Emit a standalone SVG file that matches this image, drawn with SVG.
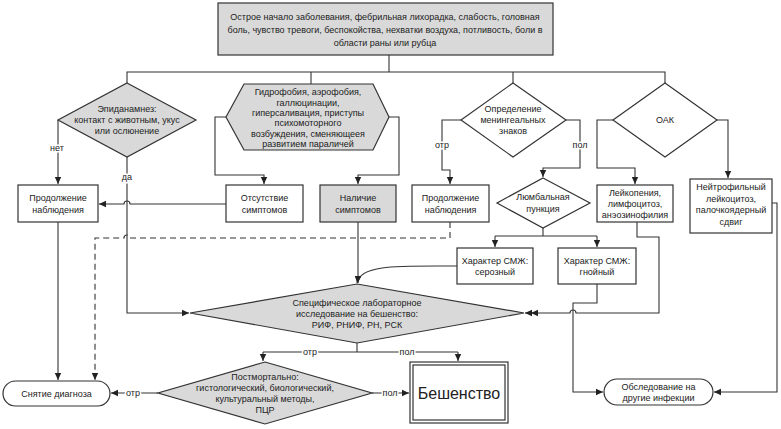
<svg xmlns="http://www.w3.org/2000/svg" width="781" height="429" viewBox="0 0 781 429">
<style>
text{font-family:"Liberation Sans",Arial,sans-serif;font-size:9px;fill:#222;text-anchor:middle;dominant-baseline:central}
.n{stroke:#333;stroke-width:1.2;fill:#fff}
.g{fill:#d9d9d9}
.c path{fill:none;stroke:#333;stroke-width:1.1}
.c .d{stroke-dasharray:6,4}
.lb{paint-order:stroke;stroke:#fff;stroke-width:3px}
.big{font-size:16px}
</style>
<defs>
<marker id="a" markerWidth="8" markerHeight="8" refX="7" refY="4" orient="auto" markerUnits="userSpaceOnUse"><path d="M0,0.8 L7,4 L0,7.2 z" fill="#222"/></marker>
</defs>
<rect width="781" height="429" fill="#fff"/>
<g class="c" id="connectors">
<path d="M389,55 V72"/>
<path d="M127,83 V72 H665 V83"/>
<path d="M311,72 V84"/>
<path d="M513,72 V83"/>
<path d="M58,120 V184" marker-end="url(#a)"/>
<path d="M127,157 V313 H189" marker-end="url(#a)"/>
<path d="M226,117 H215 V175 H264 V184" marker-end="url(#a)"/>
<path d="M389,117 H399 V175 H358 V184" marker-end="url(#a)"/>
<path d="M226,204 H130 a3,3 0 0 0 -6,0 H99" marker-end="url(#a)"/>
<path d="M58,222 V380" marker-end="url(#a)"/>
<path d="M358,222 V283" marker-end="url(#a)"/>
<path class="d" d="M450,222 V238 H130 a3,3 0 0 0 -6,0 H95 V380" marker-end="url(#a)"/>
<path d="M461,120 H442 V170 H450 V184" marker-end="url(#a)"/>
<path d="M566,120 H580 V168 H543 V177" marker-end="url(#a)"/>
<path d="M543,228 V236"/>
<path d="M495,236 H597"/>
<path d="M495,236 V247" marker-end="url(#a)"/>
<path d="M597,236 V247" marker-end="url(#a)"/>
<path d="M457,266 C400,266 360,264 357,283" marker-end="url(#a)"/>
<path d="M637,222 V237 H659 V313 H576 a3,3 0 0 0 -6,0 H531" marker-end="url(#a)"/>
<path d="M531,313 H525" marker-end="url(#a)"/>
<path d="M597,284 V303 H573 V392 H603" marker-end="url(#a)"/>
<path d="M613,120 H597 V168 H635 V184" marker-end="url(#a)"/>
<path d="M717,120 H728 V178" marker-end="url(#a)"/>
<path d="M772,203 H777 V392 H714" marker-end="url(#a)"/>
<path d="M357,343 V352"/>
<path d="M263,352 H458"/>
<path d="M263,352 V361" marker-end="url(#a)"/>
<path d="M458,352 V361" marker-end="url(#a)"/>
<path d="M158,393 H111" marker-end="url(#a)"/>
<path d="M372,393 H409" marker-end="url(#a)"/>
<text class="lb" x="57" y="148">нет</text>
<text class="lb" x="127" y="177">да</text>
<text class="lb" x="442" y="145">отр</text>
<text class="lb" x="580" y="145">пол</text>
<text class="lb" x="310" y="352">отр</text>
<text class="lb" x="407" y="352">пол</text>
<text class="lb" x="133" y="393">отр</text>
<text class="lb" x="390" y="393">пол</text>
</g>
<g id="n-top"><rect class="n g" x="218" y="3" width="335" height="52"/>
<text x="385" y="17">Острое начало заболевания, фебрильная лихорадка, слабость, головная</text>
<text x="385" y="30">боль, чувство тревоги, беспокойства, нехватки воздуха, потливость, боли в</text>
<text x="385" y="43">области раны или рубца</text></g>
<g id="n-epid"><polygon class="n g" points="127,83 196,120 127,157 58,120"/>
<text x="127" y="109">Эпиданамнез:</text><text x="127" y="120">контакт с животным, укус</text><text x="127" y="131">или ослюнение</text></g>
<g id="n-hex"><polygon class="n g" points="226,117 244,84 373,84 389,117 373,150 244,150"/>
<text x="308" y="92">Гидрофобия, аэрофобия,</text><text x="308" y="102.5">галлюцинации,</text><text x="308" y="113">гиперсаливация, приступы</text><text x="308" y="123">психомоторного</text><text x="308" y="133.5">возбуждения, сменяющеея</text><text x="308" y="144">развитием параличей</text></g>
<g id="n-cont1"><rect class="n" x="18" y="185" width="80" height="37"/><text x="58" y="198">Продолжение</text><text x="58" y="210">наблюдения</text></g>
<g id="n-absent"><rect class="n" x="226" y="185" width="77" height="37"/><text x="264.5" y="198">Отсутствие</text><text x="264.5" y="210">симптомов</text></g>
<g id="n-present"><rect class="n g" x="320" y="185" width="76" height="37"/><text x="358" y="198">Наличие</text><text x="358" y="210">симптомов</text></g>
<g id="n-mening"><polygon class="n" points="513,83 566,120 513,157 461,120"/><text x="513" y="109">Определение</text><text x="513" y="120">менингеальных</text><text x="513" y="131">знаков</text></g>
<g id="n-cont2"><rect class="n" x="412" y="185" width="77" height="37"/><text x="450.5" y="198">Продолжение</text><text x="450.5" y="210">наблюдения</text></g>
<g id="n-lumb"><polygon class="n" points="543,178 590,203 543,228 497,203"/><text x="543" y="197">Люмбальная</text><text x="543" y="209">пункция</text></g>
<g id="n-ser"><rect class="n" x="457" y="248" width="76" height="36"/><text x="495" y="261">Характер СМЖ:</text><text x="495" y="272">серозный</text></g>
<g id="n-pur"><rect class="n" x="558" y="248" width="78" height="36"/><text x="597" y="261">Характер СМЖ:</text><text x="597" y="272">гнойный</text></g>
<g id="n-oak"><polygon class="n" points="665,83 717,120 665,157 613,120"/><text x="665" y="120">ОАК</text></g>
<g id="n-leuk"><rect class="n" x="597" y="185" width="76" height="37"/><text x="635" y="193">Лейкопения,</text><text x="635" y="204">лимфоцитоз,</text><text x="635" y="215">анэозинофилия</text></g>
<g id="n-neut"><rect class="n" x="690" y="179" width="82" height="54"/><text x="731" y="187">Нейтрофильный</text><text x="731" y="198.5">лейкоцитоз,</text><text x="731" y="210">палочкоядерный</text><text x="731" y="221.5">сдвиг</text></g>
<g id="n-spec"><polygon class="n g" points="357,284 524,313 357,343 190,313"/><text x="357" y="303">Специфическое лабораторное</text><text x="357" y="314">исследование на бешенство:</text><text x="357" y="325">РИФ, РНИФ, РН, РСК</text></g>
<g id="n-post"><polygon class="n g" points="265,362 372,393 265,424 158,393"/><text x="265" y="377">Постмортально:</text><text x="265" y="388">гистологический, биологический,</text><text x="265" y="399">культуральный методы,</text><text x="265" y="410">ПЦР</text></g>
<g id="n-rabies"><rect class="n" x="410" y="362" width="98" height="61" stroke-width="1.5"/><rect class="n" x="413" y="365" width="92" height="55" stroke-width="1.5"/><text class="big" x="459" y="393">Бешенство</text></g>
<g id="n-remove"><rect class="n" x="3" y="381" width="107" height="25" rx="12.5"/><text x="56.5" y="393.5">Снятие диагноза</text></g>
<g id="n-other"><rect class="n" x="604" y="379" width="109" height="26" rx="13"/><text x="658.5" y="387">Обследование на</text><text x="658.5" y="398">другие инфекции</text></g>
</svg>
